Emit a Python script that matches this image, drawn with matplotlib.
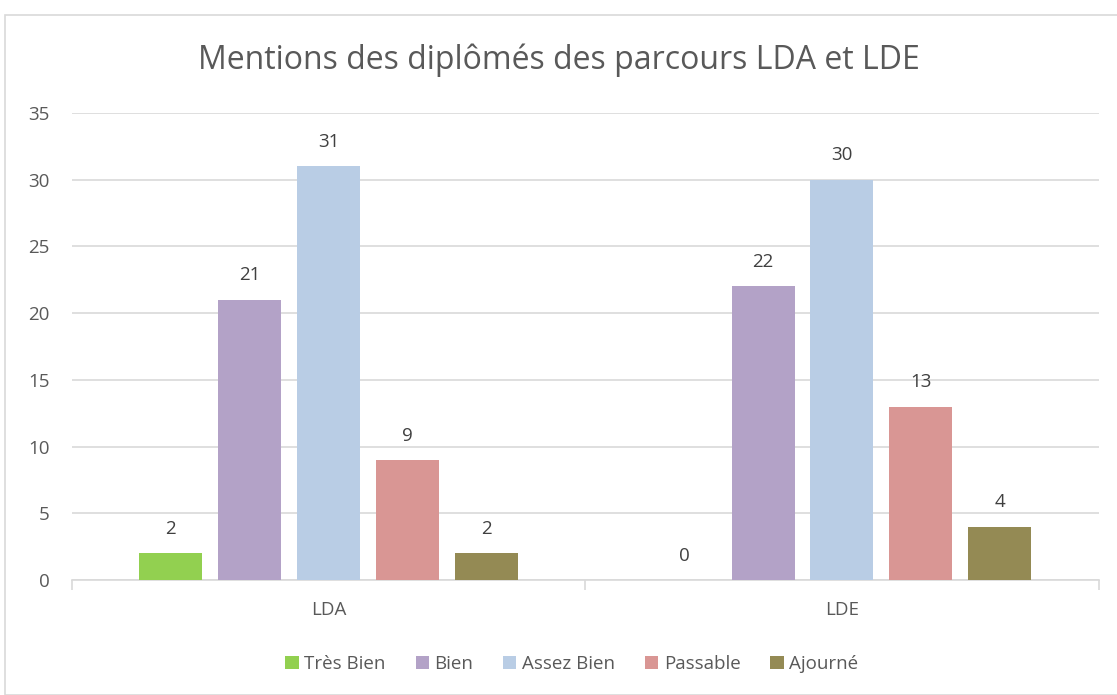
import numpy as np
import matplotlib
matplotlib.use("Agg")
import matplotlib.pyplot as plt
from matplotlib.patches import Rectangle

# --- Data ---
categories = ["LDA", "LDE"]
series_names = ["Très Bien", "Bien", "Assez Bien", "Passable", "Ajourné"]
tres_bien = [2, 0]
bien = [21, 22]
assez_bien = [31, 30]
passable = [9, 13]
ajourne = [2, 4]
colors = ["#92D050", "#B3A2C7", "#B9CDE5", "#D99694", "#948A54"]

TEXT = "#595959"
GRID = "#D9D9D9"

plt.rcParams["font.family"] = ["Open Sans", "DejaVu Sans"]

fig = plt.figure(figsize=(11.17, 6.95), dpi=100)
ax = fig.add_axes([0.0645, 0.1655, 0.9190, 0.6720])

# chart frame
fig.patches.append(Rectangle((5 / 1117, 0.0), 1.0, 1 - 15 / 695, transform=fig.transFigure,
                             fill=False, edgecolor=GRID, linewidth=1.2))

x = np.arange(len(categories))
step = 0.1537
width = 0.1226
all_series = [tres_bien, bien, assez_bien, passable, ajourne]
for i, (name, vals, col) in enumerate(zip(series_names, all_series, colors)):
    pos = x + (i - 2) * step
    bars = ax.bar(pos, vals, width, color=col, label=name, zorder=3)
    for b, v in zip(bars, vals):
        ax.annotate(str(v), (b.get_x() + b.get_width() / 2, v), xytext=(0, 11),
                    textcoords="offset points", ha="center", va="bottom",
                    fontsize=13.5, color="#404040")

ax.set_xlim(-0.5, 1.5)
ax.set_ylim(0, 35)
ax.set_yticks(range(0, 36, 5))
ax.grid(axis="y", color=GRID, linewidth=1.2, zorder=0)
ax.set_axisbelow(True)
for s in ["top", "right", "left"]:
    ax.spines[s].set_visible(False)
ax.spines["bottom"].set_color(GRID)
ax.spines["bottom"].set_linewidth(1.2)

ax.set_xticks(x)
ax.set_xticklabels(categories)
ax.set_xticks([-0.5, 0.5, 1.5], minor=True)
ax.tick_params(axis="x", which="major", length=0, pad=15, labelsize=13.5, labelcolor=TEXT)
ax.tick_params(axis="x", which="minor", length=7, color=GRID, width=1.2)
ax.tick_params(axis="y", length=0, pad=16, labelsize=13.5, labelcolor=TEXT)
for lab in ax.get_yticklabels():
    lab.set_horizontalalignment("right")

fig.text(0.5, 1 - 60 / 695, "Mentions des diplômés des parcours LDA et LDE",
         ha="center", va="center", fontsize=23, color=TEXT)

leg = fig.legend(loc="center", bbox_to_anchor=(0.512, 1 - 664 / 695), ncol=5, frameon=False,
                 fontsize=13.5, handlelength=0.7, handleheight=0.7, handletextpad=0.3,
                 columnspacing=1.6)
for t in leg.get_texts():
    t.set_color(TEXT)

fig.savefig("out.png", dpi=100)
